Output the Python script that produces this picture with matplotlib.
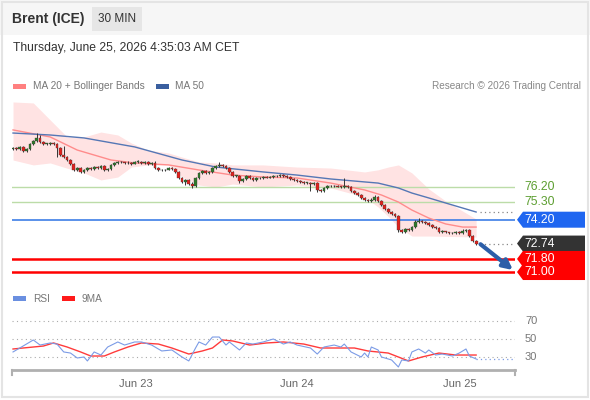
import numpy as np
import matplotlib
matplotlib.use("Agg")
import matplotlib.pyplot as plt
from matplotlib.patches import Polygon, Rectangle

plt.rcParams['font.family'] = ['Liberation Sans', 'DejaVu Sans']

# ---- price data (30 min bars) ----
first_open = 78.50
closes = [
    78.59, 78.52, 78.65, 78.40, 78.52, 78.83, 79.01, 79.20, 78.95, 78.83,
    78.83, 78.89, 78.83, 78.59, 78.16, 78.03, 77.85, 77.61, 77.24, 77.36,
    77.12, 77.24, 77.36, 77.30, 77.42, 77.36, 77.48, 77.24, 77.30, 77.55,
    77.67, 77.73, 77.70, 77.64, 77.68, 77.62, 77.73, 77.75, 77.66, 77.72,
    77.61, 77.67, 77.36, 77.24, 77.22, 77.26, 77.36, 77.30, 77.12, 76.75,
    76.51, 76.63, 76.38, 76.26, 76.75, 77.06, 77.18, 77.06, 77.12, 77.36,
    77.48, 77.55, 77.48, 77.36, 77.12, 76.87, 76.90, 76.57, 76.69, 76.87,
    76.75, 76.63, 76.75, 76.72, 76.81, 76.78, 76.82, 76.87, 76.85, 76.93,
    76.87, 76.81, 76.69, 76.63, 76.57, 76.51, 76.44, 76.47, 76.38, 76.44,
    76.02, 75.96, 76.14, 76.26, 76.24, 76.28, 76.22, 76.20, 76.26, 76.20,
    75.96, 75.83, 75.71, 75.53, 75.40, 75.34, 75.40, 75.59, 75.34, 75.10,
    74.85, 74.67, 74.55, 74.43, 73.57, 73.45, 73.63, 73.57, 73.75, 74.06,
    74.12, 74.06, 74.00, 73.88, 73.75, 73.69, 73.45, 73.48, 73.42, 73.39,
    73.36, 73.45, 73.39, 73.51, 73.57, 73.20, 72.90, 72.74,
]
wick_hi = [
    .05, .04, .06, .05, .04, .06, .08, .30, .20, .06,
    .05, .05, .04, .06, .05, .55, .06, .05, .04, .06,
    .05, .06, .04, .05, .06, .05, .05, .04, .06, .05,
    .05, .08, .04, .05, .10, .06, .05, .08, .04, .06,
    .05, .06, .10, .05, .04, .06, .05, .04, .05, .06,
    .05, .04, .06, .10, .05, .06, .05, .04, .06, .05,
    .08, .20, .05, .04, .06, .05, .04, .06, .05, .05,
    .04, .06, .05, .05, .04, .06, .05, .04, .06, .05,
    .05, .04, .06, .05, .05, .04, .06, .05, .04, .05,
    .06, .05, .04, .05, .06, .05, .04, .06, .50, .05,
    .05, .04, .06, .05, .04, .05, .15, .12, .05, .04,
    .06, .05, .04, .05, .06, .05, .04, .06, .05, .10,
    .20, .05, .04, .06, .05, .04, .05, .06, .04, .05,
    .05, .06, .04, .10, .05, .06, .04, .05,
]
wick_lo = [
    .06, .05, .04, .06, .05, .04, .05, .06, .04, .05,
    .04, .06, .05, .55, .06, .05, .04, .06, .08, .05,
    .06, .05, .04, .06, .05, .04, .06, .05, .04, .05,
    .04, .05, .06, .04, .05, .06, .04, .05, .06, .04,
    .05, .06, .04, .05, .06, .04, .05, .06, .05, .06,
    .05, .20, .06, .12, .05, .04, .06, .05, .04, .05,
    .05, .04, .06, .05, .04, .06, .05, .15, .05, .04,
    .06, .05, .04, .06, .05, .04, .06, .05, .04, .06,
    .05, .04, .06, .05, .04, .06, .05, .04, .45, .05,
    .15, .05, .06, .04, .05, .06, .04, .05, .06, .04,
    .05, .06, .04, .05, .06, .05, .04, .06, .05, .04,
    .05, .06, .04, .05, .10, .06, .05, .04, .06, .05,
    .04, .05, .06, .04, .05, .06, .04, .05, .06, .04,
    .05, .04, .06, .05, .04, .05, .06, .08,
]

# indicator lines, sampled at bar indices
ma20_bars = [0, 11, 19, 29, 36, 46, 55, 65, 74, 84, 94, 104, 109, 114, 118, 123, 128, 133, 137]
ma20_vals = [79.69, 79.26, 78.46, 77.85, 77.67, 77.55, 77.24, 76.93, 76.81, 76.75,
             76.44, 76.02, 75.71, 75.28, 74.79, 74.30, 73.94, 73.75, 73.75]
ma50_bars = [0, 11, 21, 36, 50, 60, 74, 84, 94, 104, 108, 114, 118, 123, 128, 137]
ma50_vals = [79.50, 79.38, 79.20, 78.65, 77.85, 77.42, 77.12, 76.93, 76.69, 76.51,
             76.44, 76.14, 75.83, 75.53, 75.22, 74.67]
band_bars = [0, 6, 11, 16, 21, 26, 31, 35, 40, 46, 50, 55, 60, 65, 74, 84, 94, 104,
             108, 111, 114, 118, 123, 128, 133, 137]
band_upper = [81.40, 81.34, 80.30, 79.26, 79.26, 79.56, 79.38, 78.89, 78.46, 78.28,
              78.03, 77.73, 77.67, 77.55, 77.55, 77.42, 77.36, 77.12, 77.25, 77.42,
              77.55, 77.06, 76.08, 75.34, 74.73, 74.24]
band_lower = [77.85, 77.55, 77.67, 77.35, 77.06, 76.63, 76.81, 77.42, 77.55, 77.55,
              76.81, 76.32, 76.20, 76.38, 76.20, 76.32, 76.14, 75.59, 74.98, 74.40,
              73.75, 73.20, 73.20, 73.18, 73.16, 73.14]

rsi_bars = [0, 2, 6, 8, 11, 13, 15, 17, 19, 21, 22, 24, 26, 28, 31, 33, 36, 38, 41, 44,
            47, 50, 52, 54, 55, 57, 59, 61, 63, 64, 67, 69, 71, 74, 77, 80, 82, 84, 88, 90,
            92, 95, 97, 98, 100, 103, 104, 105, 106, 108, 109, 112, 114, 115, 117, 118,
            120, 122, 123, 125, 127, 130, 132, 134, 135, 137]
rsi_vals = [35.6, 40.0, 48.9, 43.3, 45.6, 44.4, 35.6, 34.4, 28.9, 30.0, 25.6, 35.6, 32.2,
            41.1, 46.7, 43.3, 46.7, 46.7, 43.3, 36.7, 37.8, 30.0, 25.6, 40.0, 46.7, 43.3,
            52.2, 52.2, 43.3, 46.7, 37.8, 45.6, 44.4, 46.7, 50.0, 44.4, 46.7, 43.3, 40.0,
            33.3, 41.1, 43.3, 41.1, 44.4, 35.6, 30.0, 34.4, 30.0, 41.1, 37.8, 30.0, 26.7,
            18.9, 26.7, 25.6, 35.6, 38.9, 34.4, 37.8, 32.2, 33.3, 31.1, 34.4, 38.9, 31.1,
            27.8]
rsi_ma_bars = [0, 6, 9, 12, 16, 20, 23, 27, 30, 34, 38, 43, 47, 52, 56, 59, 62, 65, 70,
               75, 80, 86, 91, 97, 101, 105, 111, 117, 121, 126, 131, 137]
rsi_ma_vals = [38.9, 41.1, 42.2, 45.6, 41.1, 35.6, 31.1, 31.1, 35.6, 41.1, 45.6, 44.4,
               40.0, 33.3, 36.7, 40.0, 48.9, 47.8, 43.3, 45.6, 46.7, 44.4, 40.0, 40.0,
               40.0, 36.7, 34.4, 25.6, 30.0, 34.4, 32.2, 32.2]

day_ticks = [36.4, 84.0, 132.2]
day_labels = ["Jun 23", "Jun 24", "Jun 25"]

resistances = [76.20, 75.30]
pivot = 74.20
supports = [71.80, 71.00]
last_price = 72.74

# ---- figure ----
W, H = 590, 400
fig = plt.figure(figsize=(W / 100, H / 100), dpi=100)
fig.patch.set_facecolor("white")


def fx(px):
    return px / W


def fy(py):
    return 1 - py / H


# header band + frame
fig.patches.append(Rectangle((0, fy(35)), 1, 35 / H, transform=fig.transFigure,
                             facecolor="#f6f6f6", edgecolor="none", zorder=0))
fig.patches.append(Rectangle((fx(92), fy(31)), fx(50), 24 / H, transform=fig.transFigure,
                             facecolor="#e6e6e6", edgecolor="none", zorder=1))
fig.patches.append(Rectangle((fx(1.5), fy(397)), fx(586), 395.5 / H, transform=fig.transFigure,
                             facecolor="none", edgecolor="#e4e4e4", lw=1.5, zorder=1))
fig.text(fx(12), fy(19), "Brent (ICE)", fontsize=10, fontweight="bold", color="#333333", va="center")
fig.text(fx(117), fy(19), "30 MIN", fontsize=8.5, color="#333333", va="center", ha="center")
fig.text(fx(13), fy(48), "Thursday, June 25, 2026 4:35:03 AM CET", fontsize=8.7, color="#333333", va="center")

# legends
fig.patches.append(Rectangle((fx(13), fy(89)), fx(13), 5 / H, transform=fig.transFigure,
                             facecolor="#ff8080", edgecolor="none"))
fig.text(fx(33), fy(86), "MA 20 + Bollinger Bands", fontsize=7.3, color="#777777", va="center")
fig.patches.append(Rectangle((fx(156), fy(89)), fx(13), 5 / H, transform=fig.transFigure,
                             facecolor="#3a5f9f", edgecolor="none"))
fig.text(fx(175), fy(86), "MA 50", fontsize=7.3, color="#777777", va="center")
fig.text(fx(581), fy(86), "Research \u00a9 2026 Trading Central", fontsize=7.2, color="#888888",
         va="center", ha="right")
fig.patches.append(Rectangle((fx(13), fy(301)), fx(13), 5 / H, transform=fig.transFigure,
                             facecolor="#6a8fe0", edgecolor="none"))
fig.text(fx(33), fy(299), "RSI", fontsize=7.3, color="#777777", va="center")
fig.patches.append(Rectangle((fx(62), fy(301)), fx(13), 5 / H, transform=fig.transFigure,
                             facecolor="#ff1a1a", edgecolor="none"))
fig.text(fx(82), fy(299), "9MA", fontsize=7.3, color="#777777", va="center")

# ---- price panel ----
ax = fig.add_axes([fx(12), fy(282), fx(503), 182 / H])
ax.set_xlim(-0.3, 148.5)
ax.set_ylim(70.39, 81.52)
ax.axis("off")

ax.fill_between(band_bars, band_lower, band_upper, color="#ffe3e3", lw=0, zorder=1)

for r in resistances:
    ax.axhline(r, color="#bcdca8", lw=1, zorder=2)
ax.axhline(pivot, color="#3d7ee6", lw=1.2, zorder=2)
for s in supports:
    ax.axhline(s, color="#ff0000", lw=1.8, zorder=2)

ax.plot(ma20_bars, ma20_vals, color="#ff8c8c", lw=1, zorder=3)
ax.plot(ma50_bars, ma50_vals, color="#5577b5", lw=1, zorder=3)

n = len(closes)
xs = np.arange(n)
opens = np.array([first_open] + closes[:-1])
cl = np.array(closes)
tops = np.maximum(opens, cl)
bots = np.minimum(opens, cl)
highs = tops + np.array(wick_hi)
lows = bots - np.array(wick_lo)
colors = np.where(cl >= opens, "#2f7a2a", "#e3211c")
ax.vlines(xs, lows, highs, color="#333333", lw=0.7, zorder=4)
ax.bar(xs, np.maximum(tops - bots, 0.04), bottom=bots, width=0.82, color=colors,
       edgecolor="#3a3a3a", lw=0.25, zorder=5)

# dotted continuation lines
ax.plot([n, 148.5], [ma50_vals[-1]] * 2, color="#888888", lw=0.9, ls=(0, (1, 2.5)), zorder=3)
ax.plot([n, 148.5], [last_price] * 2, color="#888888", lw=0.9, ls=(0, (1, 2.5)), zorder=3)

# forecast arrow
ax.annotate("", xy=(147.9, 71.12), xytext=(n + 0.3, 72.70),
            arrowprops=dict(arrowstyle="-|>", color="#2c5ea8", lw=3, mutation_scale=14,
                            shrinkA=0, shrinkB=0), zorder=6)

# right-hand tags
trans = ax.get_yaxis_transform()
x0 = (517 - 12) / 503
xt = (523 - 12) / 503
x1 = (585 - 12) / 503
half = 8 / 16.35


def tag(price, face, label, fg="white"):
    pts = [(x0, price), (xt, price + half), (x1, price + half), (x1, price - half), (xt, price - half)]
    ax.add_patch(Polygon(pts, closed=True, transform=trans, facecolor=face, edgecolor="none",
                         clip_on=False, zorder=7))
    ax.text((524 - 12) / 503, price, label, transform=trans, color=fg, fontsize=8.7,
            va="center", ha="left", zorder=8, clip_on=False)


for r in resistances:
    ax.text((524 - 12) / 503, r, f"{r:.2f}", transform=trans, color="#5c9e30", fontsize=8.7,
            va="center", ha="left", clip_on=False)
tag(pivot, "#1f66f0", f"{pivot:.2f}")
tag(last_price, "#333333", f"{last_price:.2f}")
tag(supports[0], "#ff0000", f"{supports[0]:.2f}")
tag(supports[1], "#ff0000", f"{supports[1]:.2f}")

# ---- RSI panel ----
rx = fig.add_axes([fx(12), fy(370), fx(503), 62 / H])
rx.set_xlim(-0.3, 148.5)
rx.set_ylim(30 - 13 / 0.9, 30 + 49 / 0.9)
for sp in ["top", "left", "right"]:
    rx.spines[sp].set_visible(False)
rx.spines["bottom"].set_color("#b0b0b0")
rx.spines["bottom"].set_linewidth(2)
rx.set_yticks([])
rx.set_xticks([])
for lvl in [70, 50, 30]:
    rx.axhline(lvl, color="#aaaaaa", lw=0.8, ls=(0, (1, 3)))
    rx.text((525 - 12) / 503, lvl, str(lvl), transform=rx.get_yaxis_transform(), color="#777777",
            fontsize=8, va="center", ha="left", clip_on=False)
rx.plot(rsi_ma_bars, rsi_ma_vals, color="#ff3b3b", lw=1, zorder=3)
rx.plot(rsi_bars, rsi_vals, color="#7b9be6", lw=0.8, zorder=4)
rx.plot([rsi_bars[-1], 148.5], [rsi_vals[-1]] * 2, color="#7b9be6", lw=0.9, ls=(0, (1, 2.5)))
for xe in [0, 1]:
    rx.plot([xe, xe], [0, -0.08], transform=rx.transAxes, color="#b0b0b0", lw=1.5, clip_on=False)
for t, lab in zip(day_ticks, day_labels):
    rx.text(t, -0.22, lab, transform=rx.get_xaxis_transform(), color="#666666", fontsize=8,
            ha="center", va="center")

fig.savefig("out.png", dpi=100)
